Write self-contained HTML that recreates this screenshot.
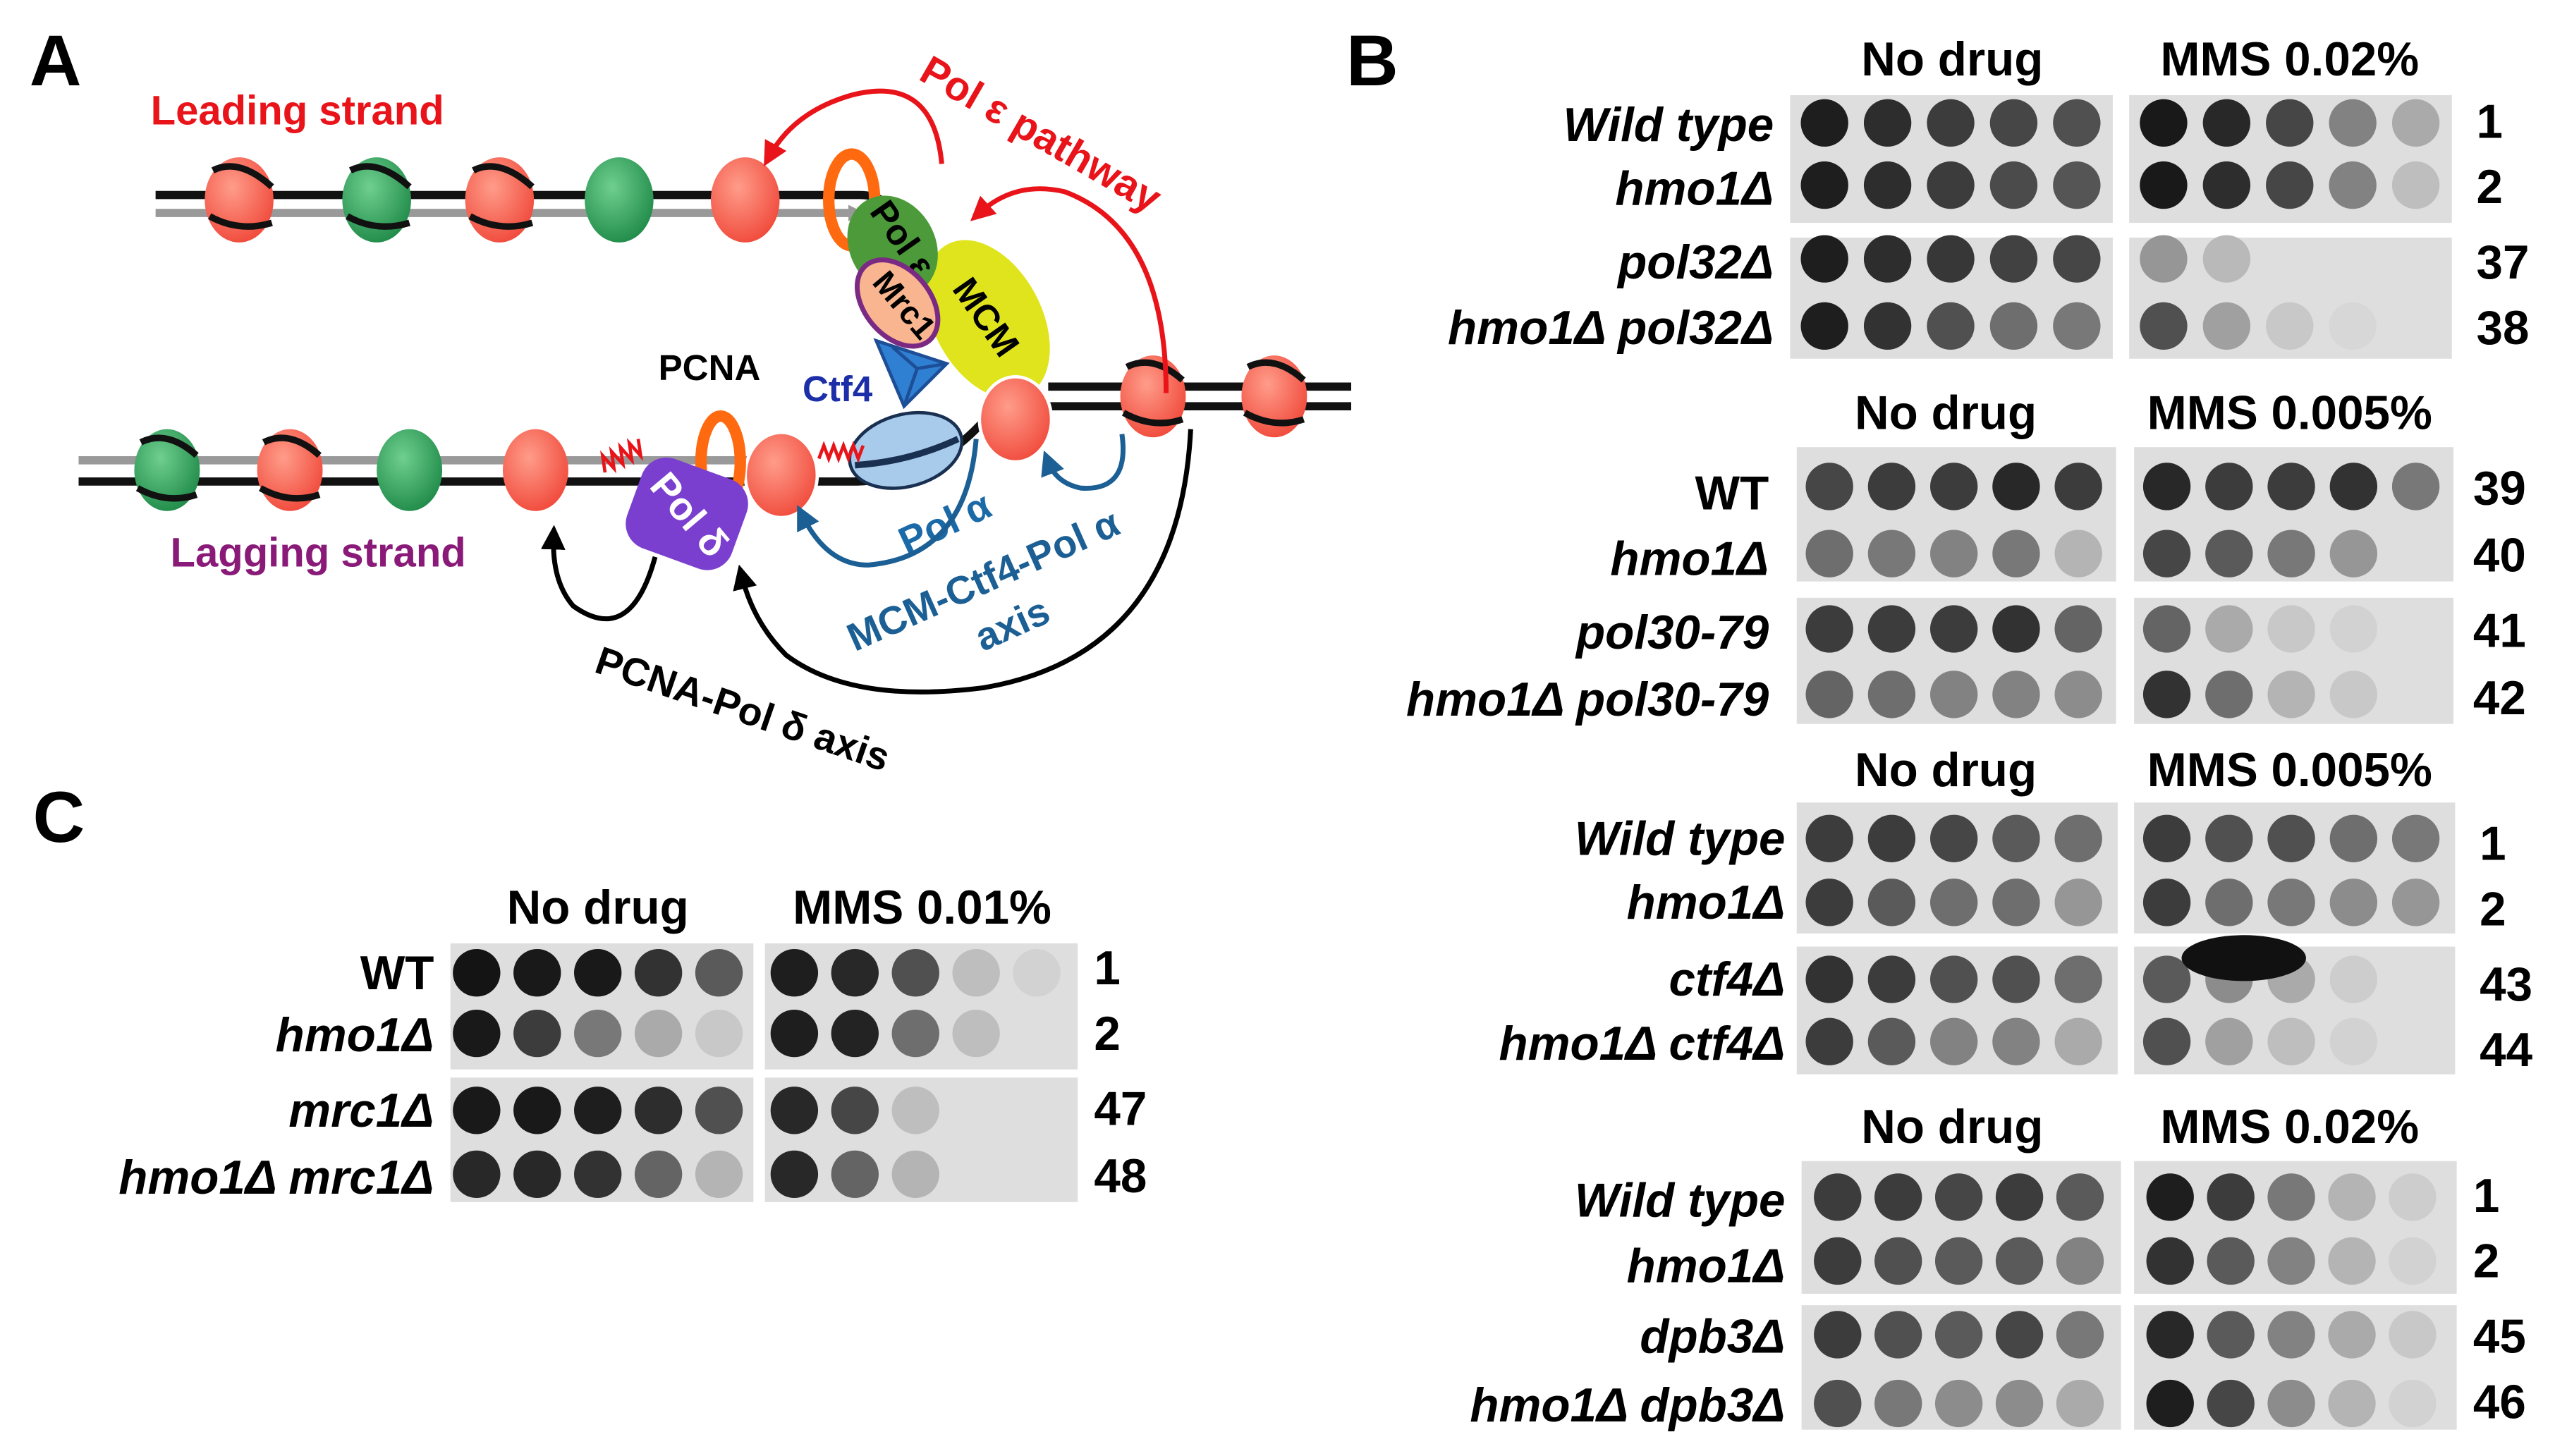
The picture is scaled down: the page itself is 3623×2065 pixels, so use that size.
<!DOCTYPE html>
<html><head><meta charset="utf-8"><style>
html,body{margin:0;padding:0;background:#fff}
svg{display:block}
text{font-family:"Liberation Sans Narrow","Liberation Sans",sans-serif;font-weight:bold}
.lab{font-size:29px;font-style:italic;text-anchor:end}
.num{font-size:29px;text-anchor:start}
.hd{font-size:29px;text-anchor:middle}
</style></head><body>
<svg id="s" width="3623" height="2065" viewBox="0 0 1560 889" xmlns="http://www.w3.org/2000/svg">
<defs>
<radialGradient id="rn" cx="40%" cy="35%" r="70%"><stop offset="0" stop-color="#ff9c8a"/><stop offset="1" stop-color="#f0493a"/></radialGradient>
<radialGradient id="gn" cx="40%" cy="35%" r="70%"><stop offset="0" stop-color="#6fcf8f"/><stop offset="1" stop-color="#1f8a48"/></radialGradient>
<marker id="ar" viewBox="0 0 10 10" refX="5" refY="5" markerWidth="5" markerHeight="5" orient="auto"><path d="M0,0L10,5L0,10z" fill="#e8141a"/></marker>
<marker id="ab" viewBox="0 0 10 10" refX="5" refY="5" markerWidth="5" markerHeight="5" orient="auto"><path d="M0,0L10,5L0,10z" fill="#1b5f94"/></marker>
<marker id="ak" viewBox="0 0 10 10" refX="5" refY="5" markerWidth="5" markerHeight="5" orient="auto"><path d="M0,0L10,5L0,10z" fill="#000"/></marker>
</defs>
<text x="18" y="52" font-size="44" font-family="Liberation Sans">A</text>
<text x="822" y="52" font-size="44" font-family="Liberation Sans">B</text>
<text x="20" y="514" font-size="44" font-family="Liberation Sans">C</text>

<text x="92" y="76" font-size="25" fill="#e8141a">Leading strand</text>
<text x="104" y="346" font-size="25" fill="#8a1a78">Lagging strand</text>
<path d="M95,119 L525,119 Q540,119 545,130" stroke="#111" stroke-width="5" fill="none"/>
<path d="M95,130 L518,130" stroke="#999" stroke-width="5" fill="none"/>
<path d="M518,125 L528,130 L518,135z" fill="#999"/>
<path d="M48,281 L470,281" stroke="#999" stroke-width="5"/>
<path d="M48,294 L520,294 Q570,294 605,252" stroke="#111" stroke-width="5" fill="none"/>
<path d="M640,236 L825,236 M640,248 L825,248" stroke="#111" stroke-width="5"/>
<g>
<ellipse cx="146" cy="122" rx="21" ry="26" fill="url(#rn)"/>
<ellipse cx="230" cy="122" rx="21" ry="26" fill="url(#gn)"/>
<ellipse cx="305" cy="122" rx="21" ry="26" fill="url(#rn)"/>
<ellipse cx="378" cy="122" rx="21" ry="26" fill="url(#gn)"/>
<ellipse cx="455" cy="122" rx="21" ry="26" fill="url(#rn)"/>
<path d="M130,104 Q146,96 166,114 M128,132 Q146,142 166,136" stroke="#111" stroke-width="4" fill="none"/>
<path d="M214,104 Q230,96 250,114 M212,132 Q230,142 250,136" stroke="#111" stroke-width="4" fill="none"/>
<path d="M289,104 Q305,96 325,114 M287,132 Q305,142 325,136" stroke="#111" stroke-width="4" fill="none"/>
</g>
<ellipse cx="102" cy="287" rx="20" ry="25" fill="url(#gn)"/>
<ellipse cx="177" cy="287" rx="20" ry="25" fill="url(#rn)"/>
<ellipse cx="250" cy="287" rx="20" ry="25" fill="url(#gn)"/>
<ellipse cx="327" cy="287" rx="20" ry="25" fill="url(#rn)"/>
<path d="M86,270 Q102,262 120,278 M84,298 Q102,308 120,302" stroke="#111" stroke-width="4" fill="none"/>
<path d="M161,270 Q177,262 195,278 M159,298 Q177,308 195,302" stroke="#111" stroke-width="4" fill="none"/>
<ellipse cx="704" cy="242" rx="20" ry="25" fill="url(#rn)"/>
<ellipse cx="778" cy="242" rx="20" ry="25" fill="url(#rn)"/>
<path d="M688,224 Q704,216 722,232 M686,252 Q704,262 722,256" stroke="#111" stroke-width="4" fill="none"/>
<path d="M762,224 Q778,216 796,232 M760,252 Q778,262 796,256" stroke="#111" stroke-width="4" fill="none"/>
<ellipse cx="520" cy="122" rx="14" ry="28" fill="none" stroke="#ff6a10" stroke-width="7"/>
<ellipse cx="603" cy="195" rx="33" ry="52" transform="rotate(-28 603 195)" fill="#e0e41c"/>
<text x="600" y="200" font-size="22" transform="rotate(55 600 195)" text-anchor="middle">MCM</text>
<ellipse cx="545" cy="150" rx="26" ry="32" transform="rotate(-30 545 150)" fill="#4c9a3a"/>
<text x="545" y="150" font-size="22" transform="rotate(55 545 150)" text-anchor="middle">Pol ε</text>
<ellipse cx="548" cy="185" rx="20" ry="30" transform="rotate(-40 548 185)" fill="#f9b58f" stroke="#7b2a83" stroke-width="3"/>
<text x="550" y="192" font-size="20" transform="rotate(50 550 188)" text-anchor="middle">Mrc1</text>
<path d="M535,208 L578,222 L552,248z" fill="#2f7fd3" stroke="#1d4e96" stroke-width="2"/>
<path d="M552,248 L560,225 L578,222 M560,225 L545,212" stroke="#1d4e96" stroke-width="2" fill="none"/>
<text x="490" y="245" font-size="22" fill="#1d2fa8">Ctf4</text>
<ellipse cx="553" cy="275" rx="35" ry="22" transform="rotate(-15 553 275)" fill="#a8cbec" stroke="#1a3050" stroke-width="2"/>
<path d="M522,284 Q555,282 585,268" stroke="#1a3050" stroke-width="4" fill="none"/>
<ellipse cx="620" cy="256" rx="22" ry="26" fill="url(#rn)" stroke="#fff" stroke-width="2"/>
<ellipse cx="477" cy="290" rx="22" ry="26" fill="url(#rn)" stroke="#fff" stroke-width="2"/>
<text x="402" y="232" font-size="22">PCNA</text>
<ellipse cx="440" cy="282" rx="12" ry="28" fill="none" stroke="#ff6a10" stroke-width="7"/>
<path d="M366,283 l3,-10 l3,10 l3,-10 l3,10 l3,-10 l3,10 l3,-10 l3,10 l3,-10" stroke="#e8141a" stroke-width="2" fill="none" transform="rotate(-25 380 278)"/>
<path d="M500,280 l3,-8 l3,8 l3,-8 l3,8 l3,-8 l3,8 l3,-8 l3,8 l3,-8" stroke="#e8141a" stroke-width="2" fill="none"/>
<rect x="385" y="285" width="68" height="58" rx="16" transform="rotate(20 420 315)" fill="#7b3fd0"/>
<text x="420" y="322" font-size="24" fill="#fff" transform="rotate(50 420 315)" text-anchor="middle">Pol δ</text>
<text x="545" y="330" font-size="24" fill="#1b6aa8" transform="rotate(-25 570 315)">Pol α</text>
<path d="M575,100 Q570,45 520,58 Q485,68 470,95" stroke="#e8141a" stroke-width="3" fill="none" marker-end="url(#ar)"/>
<path d="M712,240 Q712,140 650,117 Q620,110 598,130" stroke="#e8141a" stroke-width="3" fill="none" marker-end="url(#ar)"/>
<text x="0" y="0" font-size="25" fill="#e8141a" transform="translate(560,48) rotate(30)">Pol ε pathway</text>
<path d="M685,265 Q690,300 660,298 Q645,295 640,282" stroke="#1b5f94" stroke-width="3" fill="none" marker-end="url(#ab)"/>
<path d="M596,268 Q590,340 530,345 Q505,345 490,315" stroke="#1b5f94" stroke-width="3" fill="none" marker-end="url(#ab)"/>
<text x="0" y="0" font-size="24" fill="#1b5f94" transform="translate(522,398) rotate(-24)">MCM-Ctf4-Pol α</text>
<text x="0" y="0" font-size="24" fill="#1b5f94" transform="translate(600,398) rotate(-24)">axis</text>
<path d="M400,340 Q385,395 350,370 Q337,355 338,328" stroke="#000" stroke-width="3" fill="none" marker-end="url(#ak)"/>
<path d="M727,262 Q720,400 600,420 Q520,430 480,400 Q460,380 453,352" stroke="#000" stroke-width="3" fill="none" marker-end="url(#ak)"/>
<text x="0" y="0" font-size="24" transform="translate(362,410) rotate(19)">PCNA-Pol δ axis</text>

<g id="plates"></g>
</svg>
<script>
var g=document.getElementById('plates'),h='';
function plate(x,y,w,hh,rows,ry,off,sp){
 h+='<rect x="'+x+'" y="'+y+'" width="'+w+'" height="'+hh+'" fill="#dedede"/>';
 rows.forEach(function(r,i){r.forEach(function(v,j){if(v){h+='<circle cx="'+(x+off+j*sp)+'" cy="'+ry[i]+'" r="14.5" fill="rgb('+v+','+v+','+v+')"/>';}});});
}
function lab(x,y,t,it){h+='<text class="lab" x="'+x+'" y="'+y+'"'+(it?'':' style="font-style:normal"')+'>'+t+'</text>';}
function num(x,y,t){h+='<text class="num" x="'+x+'" y="'+y+'">'+t+'</text>';}
function hd(x,y,t){h+='<text class="hd" x="'+x+'" y="'+y+'">'+t+'</text>';}
hd(1192,46,'No drug');hd(1398,46,'MMS 0.02%');
plate(1093,58,197,78,[[30,45,60,70,80],[30,45,60,75,85]],[75,113],21,38.5);
plate(1300,58,197,78,[[25,40,70,130,170],[25,45,70,130,190]],[75,113],21,38.5);
plate(1093,145,197,74,[[30,45,55,65,70],[30,50,80,110,120]],[158,199],21,38.5);
plate(1300,145,197,74,[[150,185,0,0,0],[80,160,200,215,0]],[158,199],21,38.5);
lab(1083,86,'Wild type',1);lab(1083,125,'hmo1Δ',1);lab(1083,170,'pol32Δ',1);lab(1083,210,'hmo1Δ  pol32Δ',1);
num(1512,84,'1');num(1512,124,'2');num(1512,170,'37');num(1512,210,'38');
hd(1188,262,'No drug');hd(1398,262,'MMS 0.005%');
plate(1097,273,195,82,[[70,60,60,40,60],[110,120,130,120,180]],[297,338],20,38);
plate(1303,273,195,82,[[40,60,60,50,120],[70,90,120,150,0]],[297,338],20,38);
plate(1097,365,195,77,[[60,60,60,50,100],[100,110,130,130,140]],[384,424],20,38);
plate(1303,365,195,77,[[100,170,200,210,0],[50,110,180,200,0]],[384,424],20,38);
lab(1080,311,'WT',0);lab(1080,351,'hmo1Δ',1);lab(1080,396,'pol30-79',1);lab(1080,437,'hmo1Δ  pol30-79',1);
num(1510,308,'39');num(1510,349,'40');num(1510,395,'41');num(1510,436,'42');
hd(1188,480,'No drug');hd(1398,480,'MMS 0.005%');
plate(1097,490,196,80,[[60,60,70,90,110],[60,90,110,110,150]],[512,551],20,38);
plate(1303,490,196,80,[[60,80,80,110,120],[60,110,120,140,150]],[512,551],20,38);
plate(1097,578,196,78,[[50,60,80,80,110],[60,90,130,130,170]],[598,636],20,38);
plate(1303,578,196,78,[[90,140,170,205,0],[80,160,190,210,0]],[598,636],20,38);
h+='<ellipse cx="1370" cy="585" rx="38" ry="14" fill="#111"/>';
lab(1090,522,'Wild type',1);lab(1090,561,'hmo1Δ',1);lab(1090,608,'ctf4Δ',1);lab(1090,647,'hmo1Δ ctf4Δ',1);
num(1514,525,'1');num(1514,565,'2');num(1514,611,'43');num(1514,651,'44');
hd(1192,698,'No drug');hd(1398,698,'MMS 0.02%');
plate(1100,709,195,81,[[60,60,70,60,90],[60,80,90,90,130]],[731,770],22,37);
plate(1303,709,197,81,[[30,60,120,180,205],[50,90,130,180,210]],[731,770],22,37);
plate(1100,797,195,76,[[60,80,90,70,120],[80,120,140,140,170]],[815,857],22,37);
plate(1303,797,197,76,[[40,90,130,170,200],[30,70,140,180,210]],[815,857],22,37);
lab(1090,743,'Wild type',1);lab(1090,783,'hmo1Δ',1);lab(1090,826,'dpb3Δ',1);lab(1090,868,'hmo1Δ dpb3Δ',1);
num(1510,740,'1');num(1510,780,'2');num(1510,826,'45');num(1510,866,'46');
hd(365,564,'No drug');hd(563,564,'MMS 0.01%');
plate(275,576,185,77,[[20,25,25,50,90],[25,60,120,170,200]],[594,631],16,37);
plate(467,576,191,77,[[30,40,80,190,210],[30,35,110,190,0]],[594,631],18,37);
plate(275,658,185,76,[[25,25,30,45,80],[40,40,50,100,180]],[678,717],16,37);
plate(467,658,191,76,[[40,70,190,0,0],[40,100,180,0,0]],[678,717],18,37);
lab(265,604,'WT',0);lab(265,642,'hmo1Δ',1);lab(265,688,'mrc1Δ',1);lab(265,729,'hmo1Δ mrc1Δ',1);
num(668,601,'1');num(668,641,'2');num(668,687,'47');num(668,728,'48');
g.innerHTML=h;
</script>
</body></html>
